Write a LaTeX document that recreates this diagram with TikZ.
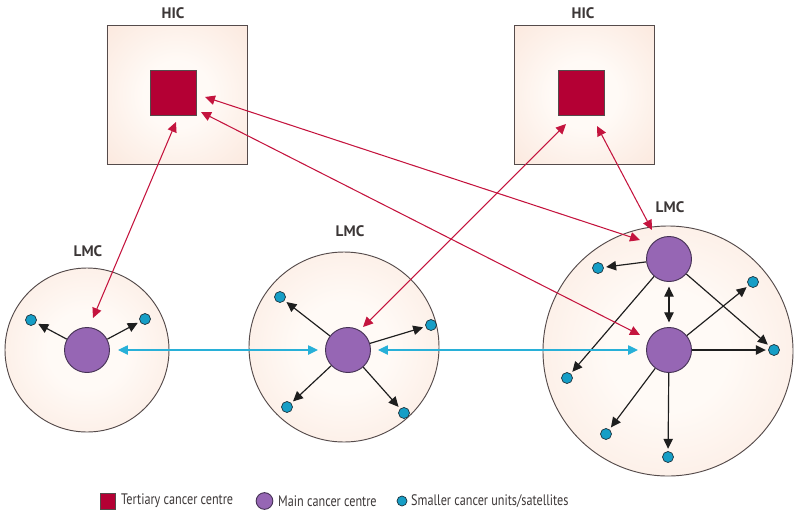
\documentclass[tikz,border=0pt]{standalone}
\usepackage{fontspec}
\setmainfont{PT Sans}
\newfontfamily\legfont[FakeStretch=0.8]{PT Sans}
\usetikzlibrary{arrows.meta,calc}
\definecolor{peachin}{RGB}{255,250,246}
\definecolor{peachout}{RGB}{249,222,208}
\definecolor{edgegray}{RGB}{85,75,75}
\definecolor{crimson}{RGB}{180,0,52}
\definecolor{purp}{RGB}{150,102,180}
\definecolor{purpedge}{RGB}{70,50,85}
\definecolor{cyanone}{RGB}{22,158,198}
\definecolor{satedge}{RGB}{30,50,60}
\definecolor{redline}{RGB}{196,20,62}
\definecolor{blueline}{RGB}{40,176,216}
\definecolor{arrowblack}{RGB}{30,30,30}
\definecolor{labelgray}{RGB}{60,55,55}
\pgfdeclareradialshading{peachshade}{\pgfpoint{0bp}{0bp}}{color(0bp)=(peachin); color(12bp)=(peachin); color(50bp)=(peachout); color(75bp)=(peachout)}
\begin{document}
\begin{tikzpicture}[x=0.03cm,y=-0.03cm,
  region/.style={draw=edgegray, line width=0.8pt, shading=peachshade, inner sep=0pt},
  hic/.style={region, rectangle, minimum width=4.2cm, minimum height=4.17cm},
  lmc/.style={region, circle},
  tert/.style={rectangle, draw=edgegray, fill=crimson, line width=0.6pt, minimum width=1.38cm, minimum height=1.35cm, inner sep=0pt},
  maincentre/.style={circle, draw=purpedge, fill=purp, line width=0.8pt, minimum size=1.35cm, inner sep=0pt},
  sat/.style={circle, draw=satedge, fill=cyanone, line width=0.6pt, minimum size=0.33cm, inner sep=0pt},
  lbl/.style={font=\bfseries\fontsize{13}{15}\selectfont, text=labelgray, inner sep=0pt},
  legtext/.style={font=\legfont\fontsize{13}{15}\selectfont, text=labelgray, inner sep=0pt, anchor=west},
  blk/.style={draw=arrowblack, line width=1pt, -{Triangle[length=8.5pt,width=8pt]}, shorten >=2pt},
  blkboth/.style={draw=arrowblack, line width=1pt, {Triangle[length=8.5pt,width=8pt]}-{Triangle[length=8.5pt,width=8pt]}, shorten >=4pt, shorten <=4pt},
  redlink/.style={draw=redline, line width=0.9pt, {Triangle[length=8.5pt,width=8pt]}-{Triangle[length=8.5pt,width=8pt]}},
  bluelink/.style={draw=blueline, line width=1pt, {Triangle[length=8.5pt,width=8pt]}-{Triangle[length=8.5pt,width=8pt]}}
]
\useasboundingbox (0,0) rectangle (800,523);

% HIC boxes
\node[lbl] (lblhicL) at (173,13) {HIC};
\node[hic] (hicL) at (177,94.5) {};
\node[tert] (tL) at (173,92.5) {};
\node[lbl] (lblhicR) at (583,13) {HIC};
\node[hic] (hicR) at (584,94.5) {};
\node[tert] (tR) at (581,92.5) {};

% LMC circles
\node[lmc, minimum size=4.92cm] (cL) at (87,350) {};
\node[lmc, minimum size=5.7cm] (cM) at (344,347) {};
\node[lmc, minimum size=7.5cm] (cR) at (668,351) {};
\node[lbl] (lblL) at (88,251) {LMC};
\node[lbl] (lblM) at (350,231) {LMC};
\node[lbl] (lblR) at (670,207) {LMC};

% main centres
\node[maincentre] (mL) at (87,350) {};
\node[maincentre] (mM) at (348,350) {};
\node[maincentre] (mRa) at (669,259) {};
\node[maincentre] (mRb) at (669,350) {};

% satellites
\node[sat] (sLa) at (31,320) {};
\node[sat] (sLb) at (145,319) {};
\node[sat] (sMa) at (280,297) {};
\node[sat] (sMb) at (431,325) {};
\node[sat] (sMc) at (287,407) {};
\node[sat] (sMd) at (404,413) {};
\node[sat] (sRa) at (598,268) {};
\node[sat] (sRb) at (753,282) {};
\node[sat] (sRc) at (774,350) {};
\node[sat] (sRd) at (567,378) {};
\node[sat] (sRe) at (606,434) {};
\node[sat] (sRf) at (668,457) {};

% black arrows
\draw[blk] (mL) -- (sLa);
\draw[blk] (mL) -- (sLb);
\draw[blk] (mM) -- (sMa);
\draw[blk] (mM) -- (sMb);
\draw[blk] (mM) -- (sMc);
\draw[blk] (mM) -- (sMd);
\draw[blk] (mRa) -- (sRa);
\draw[blk] (mRa) -- (sRd);
\draw[blk] (mRa) -- (sRc);
\draw[blk] (mRb) -- (sRb);
\draw[blk] (mRb) -- (sRc);
\draw[blk] (mRb) -- (sRe);
\draw[blk] (mRb) -- (sRf);
\draw[blkboth] (mRa) -- (mRb);

% blue links
\draw[bluelink] ($(mL)+(31,0)$) -- ($(mM)+(-30,0)$);
\draw[bluelink] ($(mM)+(30,0)$) -- ($(mRb)+(-31,0)$);

% red links
\draw[redlink] ($(tL)+(3,29.5)$) -- ($(mL)+(6,-32)$);
\draw[redlink] ($(tL)+(32,4.5)$) -- ($(mRa)+(-29,-19)$);
\draw[redlink] ($(tL)+(28,19.5)$) -- ($(mRb)+(-29,-15)$);
\draw[redlink] ($(tR)+(-15,31.5)$) -- ($(mM)+(15,-23)$);
\draw[redlink] ($(tR)+(16,33.5)$) -- ($(mRa)+(-17,-29)$);

% legend
\node[tert, minimum width=0.45cm, minimum height=0.48cm] (legT) at (107.5,501) {};
\node[legtext] (legTtxt) at (121,501) {Tertiary cancer centre};
\node[maincentre, minimum size=0.5cm] (legM) at (264.5,501) {};
\node[legtext] (legMtxt) at (278,501) {Main cancer centre};
\node[sat, minimum size=0.3cm] (legS) at (402,501) {};
\node[legtext] (legStxt) at (411,501) {Smaller cancer units/satellites};
\end{tikzpicture}
\end{document}
